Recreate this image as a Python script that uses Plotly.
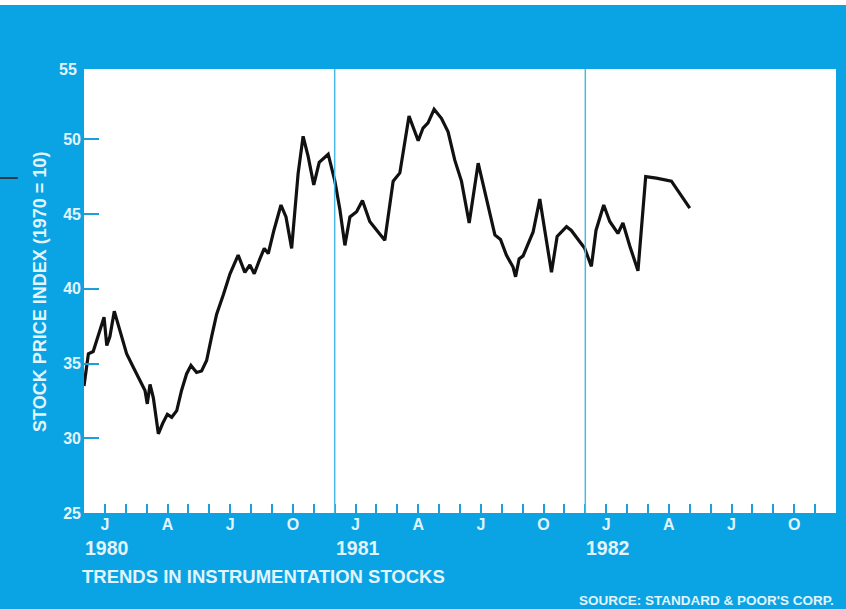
import plotly.graph_objects as go

# ---- data ----
# x position in months from the left edge of the axis (month 1 = Jan 1980)
months = [0.00, 0.21, 0.44, 0.68, 0.96, 1.09, 1.24, 1.45, 1.72, 2.04, 2.36, 2.68,
          2.92, 3.03, 3.16, 3.32, 3.56, 3.77, 3.99, 4.20, 4.44, 4.67, 4.91, 5.12,
          5.39, 5.63, 5.87, 6.11, 6.35, 6.67, 6.99, 7.38, 7.70, 7.94, 8.15, 8.42,
          8.63, 8.82, 9.09, 9.43, 9.67, 9.94, 10.25, 10.49, 10.73, 11.00, 11.26,
          11.69, 12.01, 12.25, 12.49, 12.73, 13.05, 13.33, 13.68, 14.08, 14.40,
          14.80, 15.12, 15.56, 16.00, 16.23, 16.47, 16.76, 17.11, 17.43, 17.75,
          18.07, 18.44, 18.87, 19.27, 19.67, 19.94, 20.22, 20.54, 20.66, 20.83,
          21.02, 21.50, 21.82, 22.06, 22.38, 22.65, 23.10, 23.33, 23.97, 24.29,
          24.51, 24.88, 25.17, 25.56, 25.80, 26.12, 26.52, 26.89, 27.40, 28.12, 29.00]
index_values = [33.5, 35.65, 35.8, 36.8, 38.1, 36.2, 36.8, 38.5, 37.2, 35.65, 34.75, 33.86,
                33.2, 32.3, 33.6, 32.7, 30.3, 31.0, 31.6, 31.4, 31.85, 33.2, 34.3, 34.87,
                34.4, 34.5, 35.2, 36.8, 38.3, 39.6, 41.0, 42.25, 41.1, 41.6, 41.0, 42.0,
                42.7, 42.35, 43.9, 45.6, 44.8, 42.7, 47.7, 50.2, 48.85, 46.95, 48.45,
                49.0, 47.2, 45.3, 42.9, 44.8, 45.15, 45.9, 44.5, 43.8, 43.25,
                47.2, 47.75, 51.55, 49.9, 50.75, 51.1, 52.0, 51.4, 50.5, 48.6,
                47.2, 44.4, 48.4, 45.9, 43.6, 43.3, 42.25, 41.45, 40.8, 42.0,
                42.2, 43.8, 46.0, 43.9, 41.1, 43.5, 44.15, 43.9, 42.7, 41.5,
                43.9, 45.6, 44.5, 43.7, 44.4, 42.9, 41.2, 47.5, 47.4, 47.2, 45.4]

tick_months = list(range(1, 36))
month_letters = ["J", "", "", "A", "", "", "J", "", "", "O", "", ""]
tick_text = [month_letters[(m - 1) % 12] for m in tick_months]
year_labels = ["1980", "1981", "1982"]
year_months = [1, 13, 25]
year_divider_months = [12, 24]
y_ticks = [25, 30, 35, 40, 45, 50]

BLUE = "#0aa3e3"
TXT = "#e2f4fc"
TICK = "#1b9fdc"
FONT = "Liberation Sans, Arial, sans-serif"

fig = go.Figure()
fig.add_trace(go.Scatter(x=months, y=index_values, mode="lines",
                         line=dict(color="#111111", width=3.2),
                         hoverinfo="skip", showlegend=False))

shapes = []
for m in year_divider_months:
    shapes.append(dict(type="line", xref="x", yref="paper", x0=m, x1=m, y0=0, y1=1,
                       line=dict(color="#4ab7e9", width=1.5), layer="above"))
# thin white strip at top of page
shapes.append(dict(type="rect", xref="paper", yref="paper", x0=-0.15, x1=1.05,
                   y0=1.1441, y1=1.17, fillcolor="white", line=dict(width=0), layer="below"))
# small dark mark at left edge
shapes.append(dict(type="line", xref="paper", yref="paper", x0=-0.115, x1=-0.088,
                   y0=0.7545, y1=0.7545, line=dict(color="#2a3a44", width=2)))

annotations = []
for lbl, m in zip(year_labels, year_months):
    annotations.append(dict(x=m + 0.1, y=-0.079, xref="x", yref="paper", text=lbl,
                            showarrow=False, xanchor="center", yanchor="middle",
                            font=dict(family=FONT, size=19.5, color=TXT, weight="bold")))
annotations.append(dict(x=-0.0066, y=1.0, xref="paper", yref="paper", text="55",
                        showarrow=False, xanchor="right", yanchor="middle",
                        font=dict(family=FONT, size=16, color=TXT, weight="bold")))
annotations.append(dict(x=-0.0585, y=0.498, xref="paper", yref="paper",
                        text="STOCK PRICE INDEX (1970 = 10)", textangle=-90,
                        showarrow=False, xanchor="center", yanchor="middle",
                        font=dict(family=FONT, size=18, color=TXT, weight="bold")))
annotations.append(dict(x=-0.0053, y=-0.144, xref="paper", yref="paper",
                        text="TRENDS IN INSTRUMENTATION STOCKS",
                        showarrow=False, xanchor="left", yanchor="middle",
                        font=dict(family=FONT, size=18.5, color=TXT, weight="bold")))
annotations.append(dict(x=1.0, y=-0.196, xref="paper", yref="paper",
                        text="SOURCE: STANDARD &amp; POOR'S CORP.",
                        showarrow=False, xanchor="right", yanchor="middle",
                        font=dict(family=FONT, size=13.5, color=TXT, weight="bold")))

fig.update_layout(
    width=846, height=609,
    margin=dict(l=84, r=10, t=69, b=96),
    paper_bgcolor=BLUE, plot_bgcolor="white",
    shapes=shapes, annotations=annotations,
    xaxis=dict(range=[0, 36], tickmode="array", tickvals=tick_months, ticktext=tick_text,
               ticks="inside", ticklen=9, tickwidth=1.5, tickcolor=TICK,
               showgrid=False, zeroline=False, showline=False,
               tickfont=dict(family=FONT, size=16, color=TXT, weight="bold")),
    yaxis=dict(range=[25, 54.7], tickmode="array", tickvals=y_ticks,
               ticks="inside", ticklen=15, tickwidth=1.5, tickcolor=TICK,
               showgrid=False, zeroline=False, showline=False,
               ticklabelstandoff=2,
               tickfont=dict(family=FONT, size=16, color=TXT, weight="bold")),
)

fig.write_html("out.html",
               config={"displayModeBar": False},
               post_script="document.body.style.margin='0';document.body.style.overflow='hidden';")
